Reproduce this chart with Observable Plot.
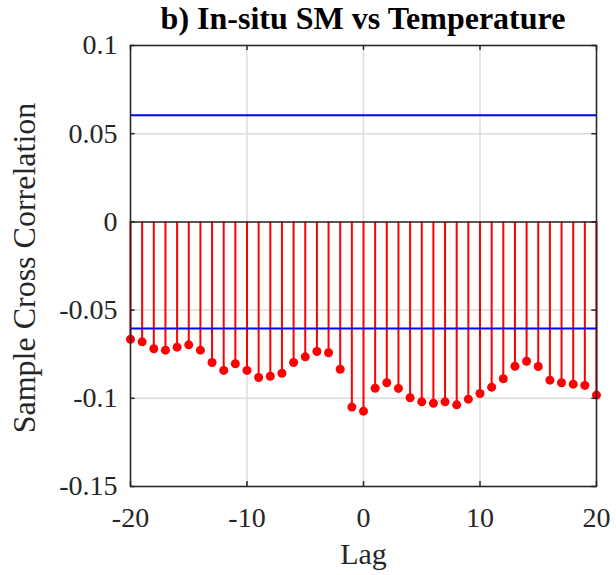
<!DOCTYPE html>
<html>
<head>
<meta charset="utf-8">
<script src="https://cdn.jsdelivr.net/npm/d3@7"></script>
<script src="https://cdn.jsdelivr.net/npm/@observablehq/plot@0.6"></script>
<style>
  html, body { margin: 0; padding: 0; background: #fff; }
  #wrap { width: 616px; }
  #title { height: 35px; box-sizing: border-box; padding-top: 2px; padding-left: 130px; padding-right: 20px; width: 616px;
           font: bold 32px "Liberation Serif", "Times New Roman", serif; line-height: 32px;
           text-align: center; color: #000; white-space: nowrap; }
</style>
</head>
<body>
<div id="wrap">
  <div id="title">b) In-situ SM vs Temperature</div>
  <div id="chart"></div>
</div>
<script>
const lags = [-20,-19,-18,-17,-16,-15,-14,-13,-12,-11,-10,-9,-8,-7,-6,-5,-4,-3,-2,-1,0,
              1,2,3,4,5,6,7,8,9,10,11,12,13,14,15,16,17,18,19,20];
const xcorr = [-0.0665,-0.0680,-0.0719,-0.0727,-0.0710,-0.0697,-0.0727,-0.0797,-0.0842,-0.0804,
               -0.0842,-0.0882,-0.0875,-0.0858,-0.0797,-0.0765,-0.0735,-0.0742,-0.0835,-0.1050,
               -0.1073,
               -0.0943,-0.0912,-0.0944,-0.0997,-0.1020,-0.1028,-0.1020,-0.1037,-0.1005,-0.0973,
               -0.0937,-0.0889,-0.0818,-0.0790,-0.0820,-0.0897,-0.0912,-0.0920,-0.0927,-0.0982];
const bounds = [0.0605, -0.0605];
const xTicks = [-20, -10, 0, 10, 20];
const xTickLabels = ["-20", "-10", "0", "10", "20"];
const yTicks = [0.1, 0.05, 0, -0.05, -0.1, -0.15];
const yTickLabels = ["0.1", "0.05", "0", "-0.05", "-0.1", "-0.15"];
const xLabel = "Lag";
const yLabel = "Sample Cross Correlation";

const data = lags.map((l, i) => ({lag: l, r: xcorr[i]}));
const axisColor = "#262626";
const xDom = [-20, 20], yDom = [-0.15, 0.1];
const tx = 0.4, ty = 0.0028;

const chart = Plot.plot({
  width: 616,
  height: 540,
  marginLeft: 130,
  marginRight: 20,
  marginTop: 10,
  marginBottom: 89,
  style: {fontFamily: "'Liberation Serif', 'Times New Roman', serif", fontSize: "28px", color: axisColor, background: "#fff", overflow: "visible"},
  x: {domain: xDom},
  y: {domain: yDom},
  marks: [
    Plot.gridX(xTicks, {stroke: "#dcdcdc", strokeOpacity: 1, strokeWidth: 1.5}),
    Plot.gridY(yTicks, {stroke: "#dcdcdc", strokeOpacity: 1, strokeWidth: 1.5}),
    Plot.ruleX(data, {x: "lag", y1: 0, y2: "r", stroke: "#ff0000", strokeWidth: 2}),
    Plot.ruleY([0], {stroke: axisColor, strokeWidth: 1.5}),
    Plot.ruleY(bounds, {stroke: "#0000ff", strokeWidth: 2}),
    Plot.dot(data, {x: "lag", y: "r", r: 4.5, fill: "#ff0000", stroke: "none"}),
    // inward tick marks
    Plot.ruleX(xTicks, {x: d => d, y1: yDom[0], y2: yDom[0] + ty, stroke: axisColor, strokeWidth: 1.5}),
    Plot.ruleX(xTicks, {x: d => d, y1: yDom[1], y2: yDom[1] - ty, stroke: axisColor, strokeWidth: 1.5}),
    Plot.ruleY(yTicks, {y: d => d, x1: xDom[0], x2: xDom[0] + tx, stroke: axisColor, strokeWidth: 1.5}),
    Plot.ruleY(yTicks, {y: d => d, x1: xDom[1], x2: xDom[1] - tx, stroke: axisColor, strokeWidth: 1.5}),
    Plot.frame({stroke: axisColor, strokeWidth: 1.5}),
    Plot.axisX(xTicks, {tickSize: 0, tickPadding: 21, fontSize: 28, label: null,
      tickFormat: (d) => xTickLabels[xTicks.indexOf(d)]}),
    Plot.axisY(yTicks, {tickSize: 0, tickPadding: 13, fontSize: 28, label: null,
      tickFormat: (d) => yTickLabels[yTicks.indexOf(d)]}),
    Plot.text([xLabel], {frameAnchor: "bottom", textAnchor: "middle", lineAnchor: "middle", dy: 68, fontSize: 30, fill: axisColor}),
    Plot.text([yLabel], {frameAnchor: "left", textAnchor: "middle", lineAnchor: "middle", dx: -106, dy: 2, rotate: -90, fontSize: 32, fill: axisColor})
  ]
});
document.getElementById("chart").appendChild(chart);
</script>
</body>
</html>
